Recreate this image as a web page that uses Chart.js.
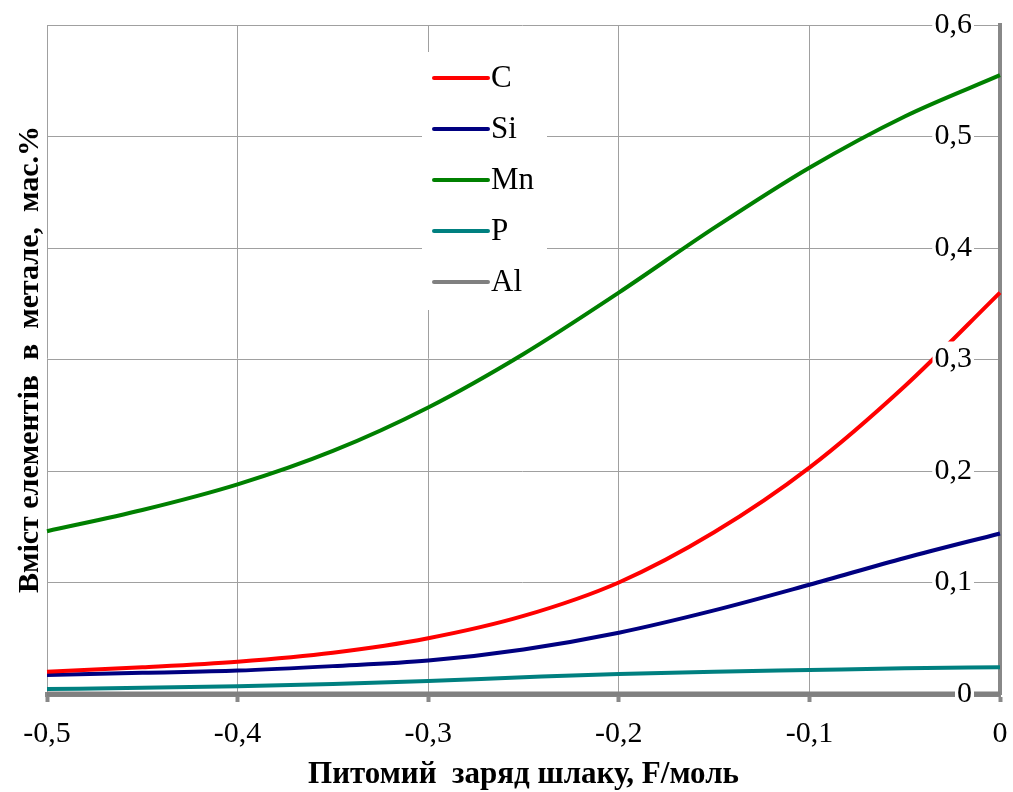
<!DOCTYPE html>
<html><head><meta charset="utf-8">
<script src="https://cdn.jsdelivr.net/npm/chart.js@4/dist/chart.umd.min.js"></script>
<style>html,body{margin:0;padding:0;background:#fff}#wrap{width:1013px;height:792px}</style>
</head><body><div id="wrap"><canvas id="c" width="1013" height="792"></canvas></div>
<script>
const xValues = [-0.5, -0.45, -0.4, -0.35, -0.3, -0.25, -0.2, -0.15, -0.1, -0.05, 0];
const seriesNames = ['C', 'Si', 'Mn', 'P', 'Al'];
const cValues  = [0.020, 0.024, 0.029, 0.037, 0.050, 0.070, 0.100, 0.145, 0.203, 0.276, 0.360];
const siValues = [0.017, 0.019, 0.021, 0.025, 0.030, 0.040, 0.055, 0.075, 0.098, 0.122, 0.144];
const mnValues = [0.146, 0.165, 0.188, 0.218, 0.257, 0.305, 0.360, 0.418, 0.472, 0.518, 0.555];
const pValues  = [0.0045, 0.0055, 0.007, 0.009, 0.0117, 0.015, 0.018, 0.020, 0.0215, 0.023, 0.024];
const alValues = [0, 0, 0, 0, 0, 0, 0, 0, 0, 0, 0];
const colors = ['#ff0000', '#000080', '#008000', '#008080', '#808080'];
const xTitle = 'Питомий  заряд шлаку, F/моль';
const yTitle = 'Вміст елементів  в  метале,  мас.%';

const allSeries = [cValues, siValues, mnValues, pValues, alValues];
const fmt = v => String(Math.round(v * 10) / 10).replace('.', ',');
const serif = '"Liberation Serif", "Times New Roman", serif';

const legendPlugin = {
  id: 'customLegend',
  afterDatasetsDraw(chart) {
    const ctx = chart.ctx;
    chart.scales.y.drawLabels(chart.chartArea);
    ctx.save();
    ctx.fillStyle = '#fff';
    ctx.fillRect(422, 52, 125, 258);
    ctx.font = '31px ' + serif;
    ctx.textBaseline = 'middle';
    chart.data.datasets.forEach((ds, i) => {
      const y = 78 + i * 51;
      ctx.strokeStyle = ds.borderColor;
      ctx.lineWidth = 4;
      ctx.lineCap = 'round';
      ctx.beginPath(); ctx.moveTo(434, y); ctx.lineTo(488, y); ctx.stroke();
      ctx.fillStyle = '#000';
      ctx.fillText(ds.label, 491, y + 1);
    });
    ctx.restore();
  }
};

new Chart(document.getElementById('c'), {
  type: 'line',
  data: {
    datasets: seriesNames.map((n, i) => ({
      label: n,
      data: xValues.map((x, j) => ({x: x, y: allSeries[i][j]})),
      borderColor: colors[i],
      backgroundColor: colors[i],
      borderWidth: i === 4 ? 5 : 4,
      pointRadius: 0,
      cubicInterpolationMode: 'monotone',
      clip: 6
    }))
  },
  options: {
    responsive: false,
    animation: false,
    layout: {padding: {top: 25, left: 0, right: 0, bottom: 0}},
    plugins: {legend: {display: false}, tooltip: {enabled: false}},
    scales: {
      x: {
        type: 'linear', min: -0.5, max: 0,
        afterFit: s => { s.height = 98; s.paddingLeft = 0; s.paddingRight = 0; },
        ticks: {stepSize: 0.1, callback: v => fmt(v), color: '#000', font: {family: serif, size: 30}, padding: 14, maxRotation: 0, autoSkip: false},
        grid: {color: '#a0a0a0', lineWidth: 1, tickLength: 8, tickWidth: 4, tickColor: '#888'},
        border: {display: true, color: '#888', width: 5},
        title: {display: true, text: xTitle, color: '#000', font: {family: serif, size: 31, weight: 'bold'}, padding: {top: 0, bottom: -2}}
      },
      y: {
        type: 'linear', position: 'right', min: 0, max: 0.6,
        afterFit: s => { s.width = 13; s.paddingTop = 0; s.paddingBottom = 0; },
        ticks: {stepSize: 0.1, mirror: true, callback: v => fmt(v), color: '#000', font: {family: serif, size: 30}, padding: -28, showLabelBackdrop: true, backdropColor: '#fff', backdropPadding: {left: 2, right: 2, top: 0, bottom: 0}},
        grid: {color: '#a0a0a0', lineWidth: 1, drawTicks: false},
        border: {display: true, color: '#888', width: 4}
      },
      y2: {
        type: 'linear', position: 'left', min: 0, max: 0.6,
        afterFit: s => { s.width = 47; s.paddingTop = 0; s.paddingBottom = 0; },
        ticks: {display: false},
        grid: {display: false, drawTicks: false},
        border: {display: false},
        title: {display: true, text: yTitle, color: '#000', font: {family: serif, size: 30, weight: 'bold'}, padding: {top: 12, bottom: 0}}
      }
    }
  },
  plugins: [legendPlugin]
});
</script>
</body></html>
